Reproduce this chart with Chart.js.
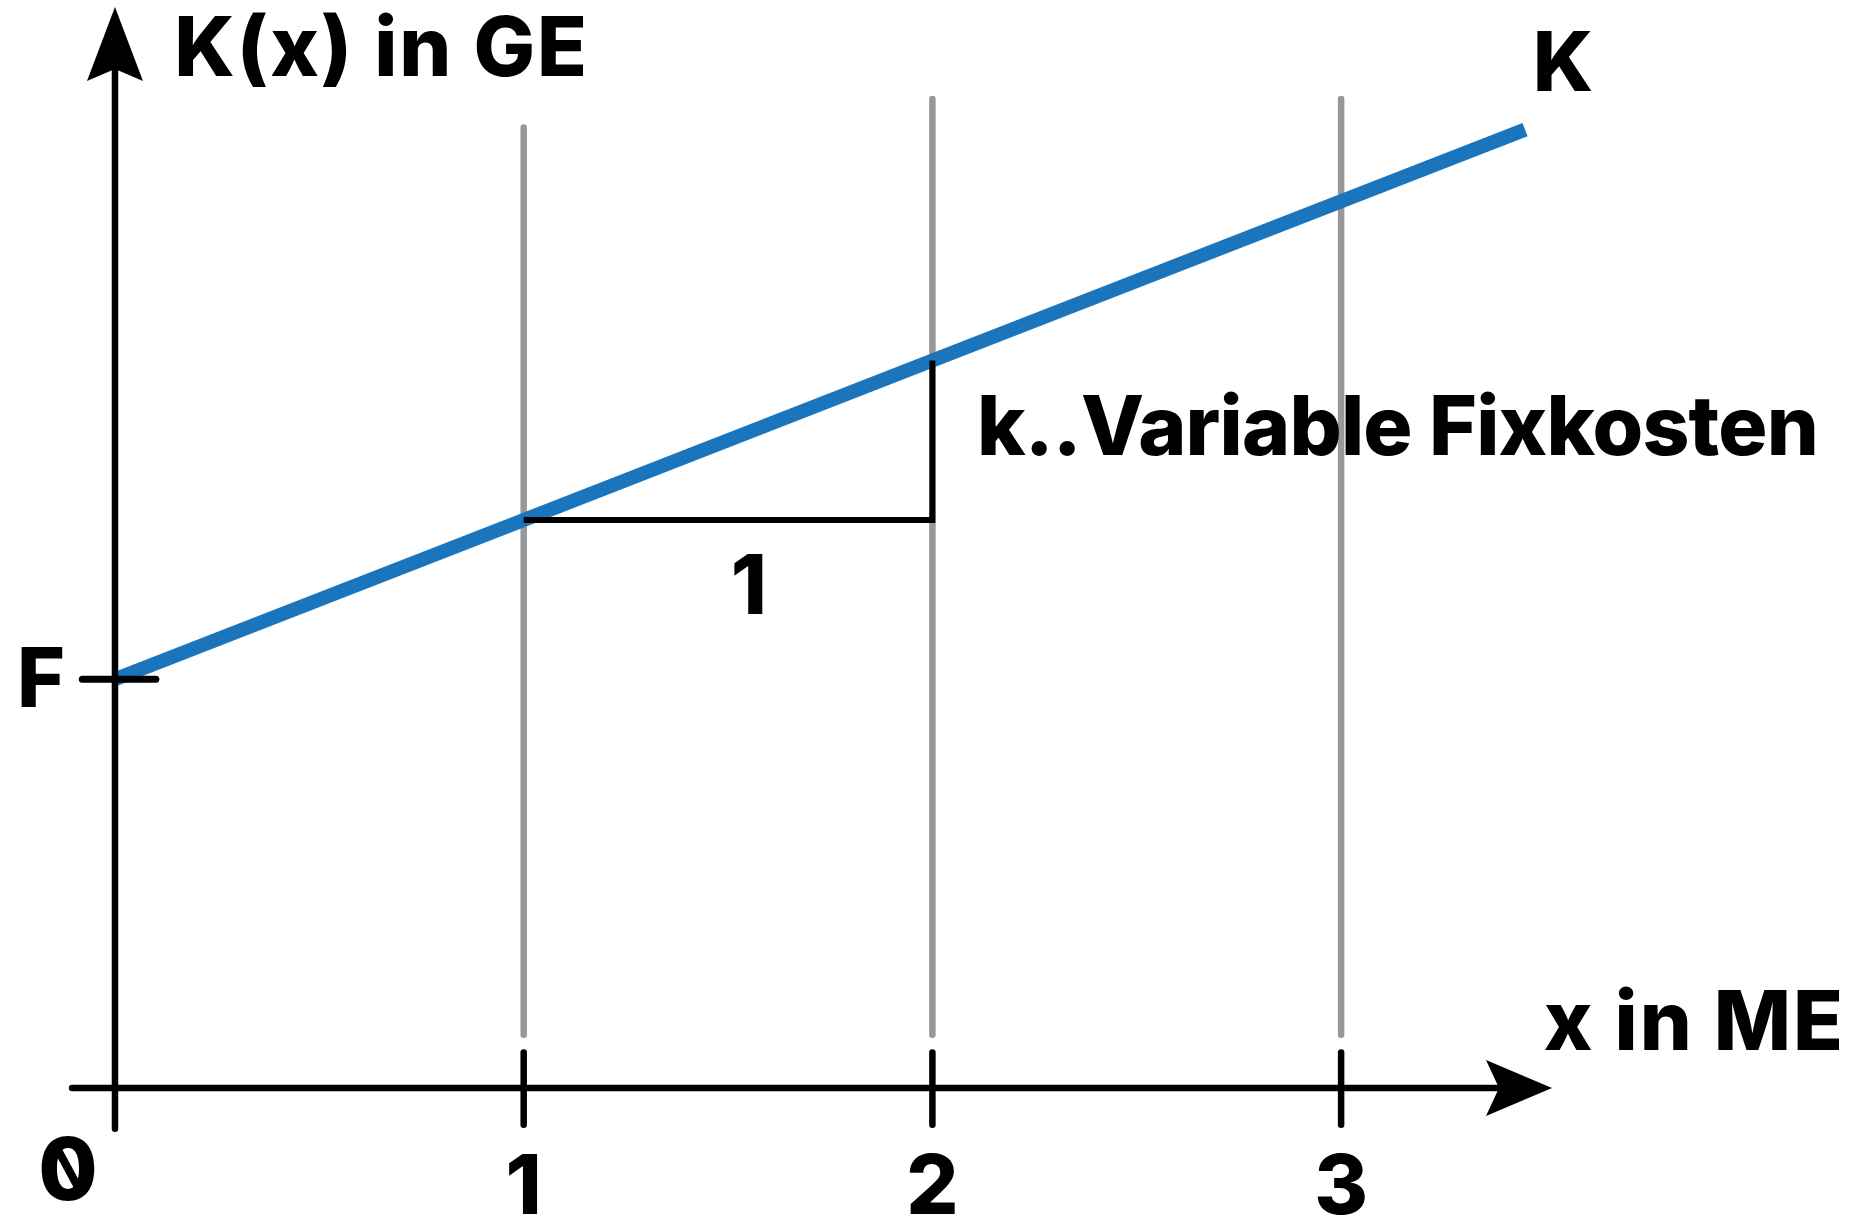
<!DOCTYPE html>
<html>
<head>
<meta charset="utf-8">
<script src="https://cdn.jsdelivr.net/npm/chart.js@4/dist/chart.umd.min.js"></script>
<style>
  html, body { margin: 0; padding: 0; background: #ffffff; overflow: hidden; }
  canvas { display: block; }
</style>
</head>
<body>
<canvas id="c" width="1863" height="1219"></canvas>
<script>
// Gesamtkostenfunktion K(x) = F + k·x
const quantities = [0, 1, 2, 3.45];            // x in ME
const totalCost  = [1.0, 1.39, 1.78, 2.345];   // K(x) in GE
const fixedCost  = 1.0;                        // F
const tickValues = [1, 2, 3];
const tickLabels = ['1', '2', '3'];
const originLabel = '0';
const guideTops   = [2.35, 2.42, 2.42];
const guideBottom = 0.13;
// Steigungsdreieck: eine Mengeneinheit, Kostenzuwachs k
const slopeX = [1, 2, 2];
const slopeY = [1.39, 1.39, 1.78];
const slopeRun = '1';

const BLUE  = '#1a75bc';
const GRAY  = '#98989b';
const BLACK = '#000000';
const FONT  = '800 82px Inter, "Liberation Sans", sans-serif';

const pts = (xs, ys) => xs.map((x, i) => ({ x, y: ys[i] }));
const seg = (data, color, width, order, cap) => ({
  data, borderColor: color, borderWidth: width, order,
  borderCapStyle: cap || 'round', showLine: true, pointRadius: 0, fill: false, tension: 0
});

const datasets = [];
// senkrechte Hilfslinien
tickValues.forEach((t, i) => datasets.push(seg(pts([t, t], [guideBottom, guideTops[i]]), GRAY, 6.5, 3)));
// Kostenfunktion K
datasets.push(seg(pts(quantities, totalCost), BLUE, 14, 2, 'butt'));
// Achsen
datasets.push(seg(pts([0, 0], [-0.1, 2.5]), BLACK, 6.5, 1, 'round'));
datasets.push(seg(pts([-0.105, 3.4], [0, 0]), BLACK, 6.5, 1, 'round'));
// Achsenstriche
tickValues.forEach(t => datasets.push(seg(pts([t, t], [-0.09, 0.087]), BLACK, 6.5, 1)));
// Markierung F
datasets.push(seg(pts([-0.08, 0.1], [fixedCost, fixedCost]), BLACK, 7, 1));
// Steigungsdreieck
datasets.push(seg(pts(slopeX, slopeY), BLACK, 6, 1, 'butt'));

const labels = [
  { text: 'K(x) in GE', x: 0.145, y: 2.476, align: 'left', spacing: 2 },
  { text: 'K', x: 3.469, y: 2.439, align: 'left', spacing: 0 },
  { text: 'k..Variable Fixkosten', x: 2.109, y: 1.549, align: 'left', spacing: -0.8 },
  { text: slopeRun, x: 1.551, y: 1.160, align: 'center', spacing: 0 },
  { text: 'F', x: -0.240, y: 0.932, align: 'left', spacing: 0 },
  { text: 'x in ME', x: 3.496, y: 0.093, align: 'left', spacing: 2 }
];

const annotate = {
  id: 'annotate',
  afterDatasetsDraw(chart) {
    const { ctx, scales: { x, y } } = chart;
    ctx.save();
    ctx.fillStyle = BLACK;

    // Pfeilspitze der Ordinate
    const ty = { x: x.getPixelForValue(0), y: y.getPixelForValue(2.645) };
    ctx.beginPath();
    ctx.moveTo(ty.x, ty.y);
    ctx.lineTo(ty.x + 28, ty.y + 74);
    ctx.lineTo(ty.x, ty.y + 62);
    ctx.lineTo(ty.x - 28, ty.y + 74);
    ctx.closePath();
    ctx.fill();

    // Pfeilspitze der Abszisse
    const tx = { x: x.getPixelForValue(3.516), y: y.getPixelForValue(0) };
    ctx.beginPath();
    ctx.moveTo(tx.x, tx.y);
    ctx.lineTo(tx.x - 66, tx.y - 28);
    ctx.lineTo(tx.x - 53, tx.y);
    ctx.lineTo(tx.x - 66, tx.y + 28);
    ctx.closePath();
    ctx.fill();

    // Beschriftungen
    ctx.font = FONT;
    ctx.textBaseline = 'alphabetic';
    labels.forEach(l => {
      ctx.letterSpacing = l.spacing + 'px';
      ctx.textAlign = l.align;
      ctx.fillText(l.text, x.getPixelForValue(l.x), y.getPixelForValue(l.y));
    });
    ctx.letterSpacing = '0px';
    ctx.textAlign = 'center';
    tickValues.forEach((t, i) => {
      ctx.fillText(tickLabels[i], x.getPixelForValue(t), y.getPixelForValue(-0.308));
    });

    // Null am Ursprung, durchgestrichen
    const ox = x.getPixelForValue(-0.115), oy = y.getPixelForValue(-0.274);
    ctx.font = '800 86px Inter, "Liberation Sans", sans-serif';
    ctx.fillText(originLabel, ox, oy);
    ctx.strokeStyle = BLACK;
    ctx.lineWidth = 8;
    ctx.lineCap = 'butt';
    ctx.beginPath();
    ctx.moveTo(ox - 10, oy - 50);
    ctx.lineTo(ox + 10, oy - 13);
    ctx.stroke();
    ctx.restore();
  }
};

new Chart(document.getElementById('c'), {
  type: 'scatter',
  data: { datasets },
  options: {
    responsive: false,
    animation: false,
    events: [],
    layout: { padding: { left: 12.8, right: 11, top: 5, bottom: 8.4 } },
    plugins: { legend: { display: false }, tooltip: { enabled: false } },
    scales: {
      x: { type: 'linear', min: -0.25, max: 4.25, display: false },
      y: { type: 'linear', min: -0.3, max: 2.65, display: false }
    }
  },
  plugins: [annotate]
});
</script>
</body>
</html>
